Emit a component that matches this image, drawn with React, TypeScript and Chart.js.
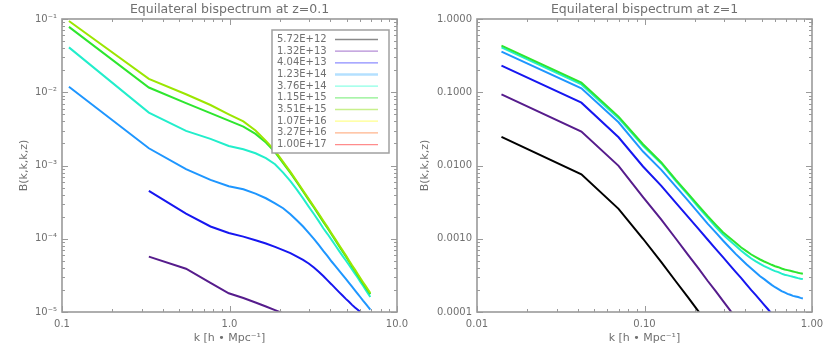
import React, { useEffect, useRef } from "react";
import { Chart, registerables } from "chart.js";

Chart.register(...registerables);

const FONT = "'DejaVu Sans', sans-serif";
const TEXT = "#707070";
const FRAME = "#9a9a9a";

// ---- legend (mass bins) ----
const massLabels = ["5.72E+12", "1.32E+13", "4.04E+13", "1.23E+14", "3.76E+14", "1.15E+15", "3.51E+15", "1.07E+16", "3.27E+16", "1.00E+17"];
const legendColors = ["#8a8a8a", "#b48cd6", "#8c8cff", "#b4e0ff", "#8cffe6", "#8cf08c", "#c8f08c", "#ffff8c", "#ffb48c", "#ff8c8c"];
const legendWidths = [1.3, 1.3, 1.3, 2.6, 1.3, 1.3, 1.3, 1.3, 1.3, 1.3];
const lineColors = ["#000000", "#561c8c", "#1616f0", "#1e96ff", "#22eecb", "#2ee62e", "#9be600"];

// ---- z = 0.1 panel ----
const kZ01 = [0.11, 0.33, 0.55, 0.77, 0.99, 1.21, 1.43, 1.65, 1.87, 2.09, 2.31, 2.53, 2.75, 2.97, 3.19, 3.41, 3.63, 3.85, 4.07, 4.29, 4.51, 4.73, 4.95, 5.17, 5.39, 5.61, 5.83, 6.05, 6.27, 6.49, 6.71, 6.93];
const bZ01_1p32e13 = [null, 5.7e-5, 3.9e-5, 2.5e-5, 1.8e-5, 1.55e-5, 1.35e-5, 1.19e-5, 1.06e-5, 9.6e-6, 8.8e-6, 8.1e-6];
const bZ01_4p04e13 = [null, 4.5e-4, 2.2e-4, 1.47e-4, 1.2e-4, 1.07e-4, 9.56e-5, 8.6e-5, 7.75e-5, 6.98e-5, 6.35e-5, 5.72e-5, 5.16e-5, 4.6e-5, 4.05e-5, 3.55e-5, 3.1e-5, 2.7e-5, 2.38e-5, 2.1e-5, 1.87e-5, 1.68e-5, 1.51e-5, 1.38e-5, 1.25e-5, 1.15e-5, 1.07e-5, 9.96e-6, 9.3e-6, 8.6e-6, 7.9e-6, 7.2e-6];
const bZ01_1p23e14 = [0.0119, 0.00172, 0.00089, 0.000636, 0.00052, 4.74e-4, 4.14e-4, 3.57e-4, 3.05e-4, 2.61e-4, 2.16e-4, 1.77e-4, 1.47e-4, 1.2e-4, 9.98e-5, 8.26e-5, 6.84e-5, 5.78e-5, 4.89e-5, 4.23e-5, 3.68e-5, 3.22e-5, 2.83e-5, 2.5e-5, 2.22e-5, 1.98e-5, 1.77e-5, 1.59e-5, 1.43e-5, 1.3e-5, 1.18e-5, 1.08e-5];
const bZ01_3p76e14 = [0.041, 0.00527, 0.00297, 0.00231, 0.00185, 0.00167, 0.00147, 0.00126, 1.04e-3, 8.0e-4, 6.1e-4, 4.65e-4, 3.55e-4, 2.75e-4, 2.18e-4, 1.74e-4, 1.39e-4, 1.16e-4, 9.64e-5, 8.09e-5, 6.84e-5, 5.85e-5, 5.05e-5, 4.38e-5, 3.82e-5, 3.34e-5, 2.93e-5, 2.58e-5, 2.28e-5, 2.02e-5, 1.79e-5, 1.6e-5];
const bZ01_1p15e15 = [0.078, 0.0116, 0.0071, 0.0052, 0.0041, 0.0034, 0.0027, 0.00206, 1.52e-3, 1.08e-3, 7.92e-4, 5.85e-4, 4.41e-4, 3.39e-4, 2.67e-4, 2.12e-4, 1.7e-4, 1.39e-4, 1.14e-4, 9.46e-5, 7.92e-5, 6.7e-5, 5.73e-5, 4.88e-5, 4.18e-5, 3.65e-5, 3.18e-5, 2.78e-5, 2.45e-5, 2.18e-5, 1.95e-5, 1.75e-5];
const bZ01_3p51e15 = [0.094, 0.0152, 0.0094, 0.0067, 0.005, 0.004, 0.003, 0.00217, 1.58e-3, 1.12e-3, 8.2e-4, 6.05e-4, 4.56e-4, 3.5e-4, 2.76e-4, 2.19e-4, 1.76e-4, 1.44e-4, 1.18e-4, 9.8e-5, 8.2e-5, 6.95e-5, 5.95e-5, 5.06e-5, 4.34e-5, 3.79e-5, 3.3e-5, 2.89e-5, 2.55e-5, 2.27e-5, 2.03e-5, 1.82e-5];
const xTicksZ01 = [0.1, 1, 10];
const xLabelsZ01 = ["0.1", "1.0", "10.0"];
const yTicksZ01 = [1e-5, 1e-4, 1e-3, 1e-2, 1e-1];
const yLabelsZ01 = ["10⁻⁵", "10⁻⁴", "10⁻³", "10⁻²", "10⁻¹"];

// ---- z = 1 panel ----
const kZ1 = [0.014, 0.042, 0.07, 0.098, 0.126, 0.154, 0.182, 0.21, 0.238, 0.266, 0.294, 0.322, 0.35, 0.378, 0.406, 0.434, 0.462, 0.49, 0.518, 0.546, 0.574, 0.602, 0.63, 0.658, 0.686, 0.714, 0.742, 0.77, 0.798, 0.826, 0.854, 0.882];
const bZ1_5p72e12 = [0.0246, 0.0076, 0.00256, 0.001, 4.79e-4, 2.61e-4, 1.58e-4, 1.02e-4, 6.9e-5];
const bZ1_1p32e13 = [0.0938, 0.029, 0.00988, 0.0037, 1.83e-3, 1.0e-3, 6.03e-4, 3.93e-4, 2.67e-4, 1.93e-4, 1.42e-4, 1.08e-4, 8.3e-5];
const bZ1_4p04e13 = [0.231, 0.0721, 0.0243, 0.0097, 5.27e-3, 3.09e-3, 1.99e-3, 1.36e-3, 9.77e-4, 7.28e-4, 5.61e-4, 4.41e-4, 3.53e-4, 2.9e-4, 2.38e-4, 1.99e-4, 1.7e-4, 1.45e-4, 1.25e-4, 1.09e-4, 9.5e-5, 8.3e-5];
const bZ1_1p23e14 = [0.358, 0.113, 0.0389, 0.0155, 8.71e-3, 5.16e-3, 3.32e-3, 2.26e-3, 1.61e-3, 1.22e-3, 9.46e-4, 7.59e-4, 6.22e-4, 5.26e-4, 4.5e-4, 3.93e-4, 3.46e-4, 3.08e-4, 2.81e-4, 2.56e-4, 2.35e-4, 2.18e-4, 2.05e-4, 1.93e-4, 1.85e-4, 1.77e-4, 1.72e-4, 1.66e-4, 1.63e-4, 1.6e-4, 1.56e-4, 1.53e-4];
const bZ1_3p76e14 = [0.41, 0.128, 0.0443, 0.0186, 1.066e-2, 6.1e-3, 3.97e-3, 2.69e-3, 1.95e-3, 1.46e-3, 1.14e-3, 9.48e-4, 8.0e-4, 6.84e-4, 6.03e-4, 5.37e-4, 4.92e-4, 4.55e-4, 4.24e-4, 4.01e-4, 3.79e-4, 3.61e-4, 3.5e-4, 3.34e-4, 3.23e-4, 3.16e-4, 3.09e-4, 3.02e-4, 2.96e-4, 2.9e-4, 2.85e-4, 2.81e-4];
const bZ1_1p15e15 = [0.432, 0.135, 0.0465, 0.0195, 1.1e-2, 6.36e-3, 4.14e-3, 2.84e-3, 2.05e-3, 1.56e-3, 1.23e-3, 1.03e-3, 8.79e-4, 7.59e-4, 6.77e-4, 6.09e-4, 5.61e-4, 5.21e-4, 4.89e-4, 4.64e-4, 4.41e-4, 4.22e-4, 4.09e-4, 3.93e-4, 3.8e-4, 3.73e-4, 3.65e-4, 3.57e-4, 3.5e-4, 3.43e-4, 3.37e-4, 3.32e-4];
const xTicksZ1 = [0.01, 0.1, 1];
const xLabelsZ1 = ["0.01", "0.10", "1.00"];
const yTicksZ1 = [1e-4, 1e-3, 1e-2, 1e-1, 1];
const yLabelsZ1 = ["0.0001", "0.0010", "0.0100", "0.1000", "1.0000"];

const xTitle = "k [h • Mpc⁻¹]";
const yTitle = "B(k,k,k,z)";

function toPoints(k: number[], vals: (number | null)[]) {
  const pts: { x: number; y: number }[] = [];
  vals.forEach((v, i) => {
    if (v != null) pts.push({ x: k[i], y: v });
  });
  return pts;
}

function tickMarks(min: number, max: number) {
  const out: { v: number; major: boolean }[] = [];
  const e0 = Math.floor(Math.log10(min) + 1e-9);
  const e1 = Math.ceil(Math.log10(max) - 1e-9);
  for (let e = e0; e <= e1; e++) {
    for (let m = 1; m < 10; m++) {
      const v = m * Math.pow(10, e);
      if (v >= min * 0.9999 && v <= max * 1.0001) out.push({ v, major: m === 1 });
    }
  }
  return out;
}

const framePlugin = {
  id: "idlFrame",
  afterDraw(chart: any) {
    const { ctx, chartArea: a, scales } = chart;
    const xs = scales.x;
    const ys = scales.y;
    ctx.save();
    ctx.strokeStyle = FRAME;
    ctx.lineWidth = 1;
    ctx.beginPath();
    tickMarks(xs.min, xs.max).forEach(({ v, major }) => {
      const px = Math.round(xs.getPixelForValue(v)) + 0.5;
      const len = major ? 6 : 3;
      ctx.moveTo(px, a.bottom);
      ctx.lineTo(px, a.bottom - len);
      ctx.moveTo(px, a.top);
      ctx.lineTo(px, a.top + len);
    });
    tickMarks(ys.min, ys.max).forEach(({ v, major }) => {
      const py = Math.round(ys.getPixelForValue(v)) + 0.5;
      const len = major ? 6 : 3;
      ctx.moveTo(a.left, py);
      ctx.lineTo(a.left + len, py);
      ctx.moveTo(a.right, py);
      ctx.lineTo(a.right - len, py);
    });
    ctx.stroke();
    ctx.lineWidth = 1.6;
    ctx.strokeRect(a.left, a.top, a.right - a.left, a.bottom - a.top);
    ctx.restore();
  },
};

const legendPlugin = {
  id: "idlLegend",
  afterDraw(chart: any, _args: any, opts: any) {
    if (!opts || !opts.labels) return;
    const { ctx, chartArea: a } = chart;
    const w = 117;
    const h = 123;
    const left = a.right - 8 - w;
    const top = a.top + 11;
    ctx.save();
    ctx.fillStyle = "#ffffff";
    ctx.fillRect(left, top, w, h);
    ctx.strokeStyle = "#a0a0a0";
    ctx.lineWidth = 1.5;
    ctx.strokeRect(left, top, w, h);
    ctx.font = "10px " + FONT;
    ctx.textBaseline = "middle";
    ctx.textAlign = "left";
    opts.labels.forEach((lab: string, i: number) => {
      const cy = top + 9.5 + i * 11.67;
      ctx.fillStyle = TEXT;
      ctx.fillText(lab, left + 5, cy);
      ctx.strokeStyle = opts.colors[i];
      ctx.lineWidth = opts.widths[i];
      ctx.beginPath();
      ctx.moveTo(left + 63, cy);
      ctx.lineTo(left + 106, cy);
      ctx.stroke();
    });
    ctx.restore();
  },
};

function buildConfig(p: any) {
  const tickFont = { family: FONT, size: 10 };
  const titleFont = { family: FONT, size: 11 };
  return {
    type: "line",
    data: {
      datasets: p.series.map((s: any, i: number) => ({
        label: s.label,
        data: toPoints(p.k, s.values),
        borderColor: s.color,
        backgroundColor: s.color,
        borderWidth: 2,
        pointRadius: 0,
        tension: 0,
        fill: false,
        order: -i,
      })),
    },
    options: {
      animation: false,
      responsive: false,
      maintainAspectRatio: false,
      devicePixelRatio: 1,
      layout: { padding: { left: 0, right: 18, top: 0, bottom: 0 } },
      plugins: {
        legend: { display: false },
        tooltip: { enabled: false },
        title: {
          display: true,
          text: p.title,
          color: TEXT,
          fullSize: false,
          font: { family: FONT, size: 12.5, weight: "normal" },
          padding: { top: 2.5, bottom: 1.5 },
        },
        idlLegend: p.legend || false,
      },
      scales: {
        x: {
          type: "logarithmic",
          min: p.xTicks[0],
          max: p.xTicks[p.xTicks.length - 1],
          grid: { display: false, drawTicks: false },
          border: { display: false },
          afterBuildTicks: (s: any) => {
            s.ticks = p.xTicks.map((v: number) => ({ value: v }));
          },
          afterFit: (s: any) => {
            s.height = 40;
          },
          ticks: {
            color: TEXT,
            font: tickFont,
            padding: 6,
            autoSkip: false,
            maxRotation: 0,
            callback: (v: number) => {
              const i = p.xTicks.indexOf(v);
              return i >= 0 ? p.xLabels[i] : "";
            },
          },
          title: { display: true, text: xTitle, color: TEXT, font: titleFont, padding: { top: 0, bottom: 7.5 } },
        },
        y: {
          type: "logarithmic",
          min: p.yTicks[0],
          max: p.yTicks[p.yTicks.length - 1],
          grid: { display: false, drawTicks: false },
          border: { display: false },
          afterBuildTicks: (s: any) => {
            s.ticks = p.yTicks.map((v: number) => ({ value: v }));
          },
          afterFit: (s: any) => {
            s.width = 62;
          },
          ticks: {
            color: TEXT,
            font: tickFont,
            padding: 5,
            autoSkip: false,
            callback: (v: number) => {
              const i = p.yTicks.indexOf(v);
              return i >= 0 ? p.yLabels[i] : "";
            },
          },
          title: { display: true, text: yTitle, color: TEXT, font: titleFont, padding: { top: p.yTitlePad, bottom: 0 } },
        },
      },
    },
    plugins: p.legend ? [framePlugin, legendPlugin] : [framePlugin],
  };
}

const leftConfig = () =>
  buildConfig({
    title: "Equilateral bispectrum at z=0.1",
    k: kZ01,
    series: [
      { label: massLabels[1], color: lineColors[1], values: bZ01_1p32e13 },
      { label: massLabels[2], color: lineColors[2], values: bZ01_4p04e13 },
      { label: massLabels[3], color: lineColors[3], values: bZ01_1p23e14 },
      { label: massLabels[4], color: lineColors[4], values: bZ01_3p76e14 },
      { label: massLabels[5], color: lineColors[5], values: bZ01_1p15e15 },
      { label: massLabels[6], color: lineColors[6], values: bZ01_3p51e15 },
    ],
    xTicks: xTicksZ01,
    xLabels: xLabelsZ01,
    yTicks: yTicksZ01,
    yLabels: yLabelsZ01,
    yTitlePad: 18,
    legend: { labels: massLabels, colors: legendColors, widths: legendWidths },
  });

const rightConfig = () =>
  buildConfig({
    title: "Equilateral bispectrum at z=1",
    k: kZ1,
    series: [
      { label: massLabels[0], color: lineColors[0], values: bZ1_5p72e12 },
      { label: massLabels[1], color: lineColors[1], values: bZ1_1p32e13 },
      { label: massLabels[2], color: lineColors[2], values: bZ1_4p04e13 },
      { label: massLabels[3], color: lineColors[3], values: bZ1_1p23e14 },
      { label: massLabels[4], color: lineColors[4], values: bZ1_3p76e14 },
      { label: massLabels[5], color: lineColors[5], values: bZ1_1p15e15 },
    ],
    xTicks: xTicksZ1,
    xLabels: xLabelsZ1,
    yTicks: yTicksZ1,
    yLabels: yLabelsZ1,
    yTitlePad: 4,
    legend: null,
  });

function Panel({ make }: { make: () => any }) {
  const ref = useRef<HTMLCanvasElement | null>(null);
  useEffect(() => {
    const chart = new Chart(ref.current as HTMLCanvasElement, make());
    return () => chart.destroy();
  }, [make]);
  return <canvas ref={ref} width={415} height={352} style={{ display: "block", width: 415, height: 352 }} />;
}

export default function App() {
  return (
    <div style={{ position: "fixed", left: 0, top: 0, width: 830, height: 352, display: "flex", background: "#ffffff" }}>
      <Panel make={leftConfig} />
      <Panel make={rightConfig} />
    </div>
  );
}
